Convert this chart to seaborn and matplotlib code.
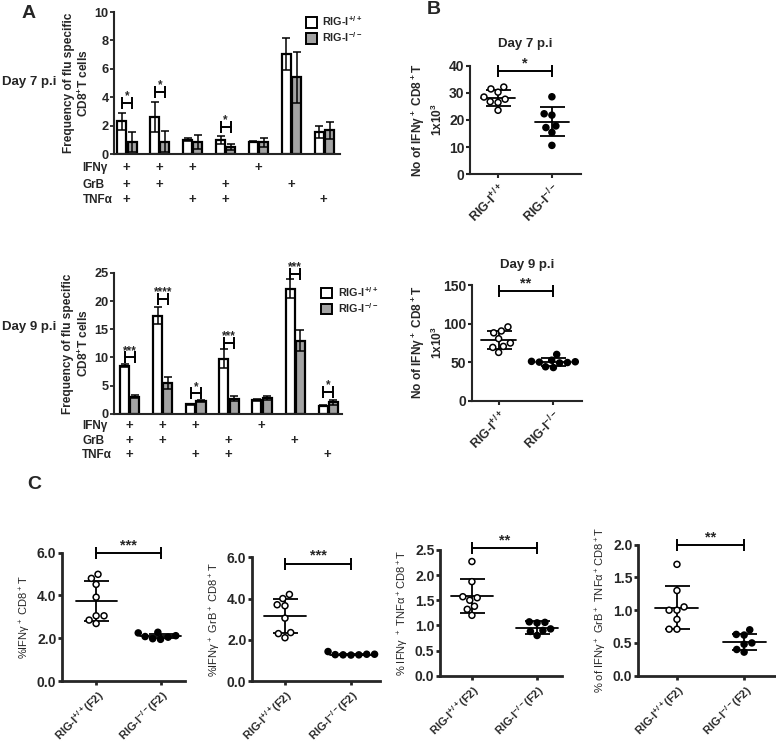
import numpy as np
import pandas as pd
import matplotlib
matplotlib.use("Agg")
import matplotlib.pyplot as plt
from matplotlib.patches import Patch
from matplotlib.transforms import blended_transform_factory
import seaborn as sns

sns.set_style("ticks")
plt.rcParams["font.family"] = ["Liberation Sans", "DejaVu Sans"]
plt.rcParams["font.weight"] = "bold"
plt.rcParams["mathtext.default"] = "regular"
plt.rcParams["axes.linewidth"] = 1.5

# -------------------------------
# data
# -------------------------------
genotypes = ["RIG-I+/+", "RIG-I-/-"]
markers_rows = ["IFNγ", "GrB", "TNFα"]
# which marker is positive for each of the 7 bar groups
ifng_pos = [1, 1, 1, 0, 1, 0, 0]
grb_pos = [1, 1, 0, 1, 0, 1, 0]
tnfa_pos = [1, 0, 1, 1, 0, 0, 1]

day7_wt = [2.3, 2.63, 1.0, 1.0, 0.87, 7.05, 1.55]
day7_wt_err = [0.62, 1.05, 0.1, 0.3, 0.03, 1.15, 0.45]
day7_ko = [0.85, 0.87, 0.85, 0.5, 0.82, 5.4, 1.67]
day7_ko_err = [0.72, 0.72, 0.5, 0.2, 0.3, 1.8, 0.6]
day7_sig_group = [0, 1, 3]
day7_sig_y = [3.58, 4.38, 1.9]
day7_sig_txt = ["*", "*", "*"]

day9_wt = [8.55, 17.4, 1.66, 9.74, 2.5, 22.2, 1.43]
day9_wt_err = [0.2, 1.5, 0.15, 1.7, 0.2, 1.7, 0.1]
day9_ko = [3.05, 5.4, 2.25, 2.67, 2.85, 13.0, 2.0]
day9_ko_err = [0.2, 1.05, 0.2, 0.4, 0.35, 1.9, 0.4]
day9_sig_group = [0, 1, 2, 3, 5, 6]
day9_sig_y = [10.0, 20.4, 3.6, 12.5, 24.8, 3.8]
day9_sig_txt = ["***", "****", "*", "***", "***", "*"]

# panel B: absolute numbers
b7_wt = [32.2, 31.5, 30.3, 28.5, 27.7, 26.8, 26.5, 23.6]
b7_ko = [28.6, 22.3, 21.8, 17.8, 17.2, 15.4, 10.6]
b7_mean = [28.1, 19.3]
b7_sd = [3.1, 5.35]
b9_wt = [95.7, 90.4, 88.0, 80.4, 74.8, 70.4, 69.1, 62.6]
b9_ko = [60.0, 52.5, 51.0, 50.5, 50.0, 49.5, 49.0, 44.0, 43.0]
b9_mean = [79.1, 50.0]
b9_sd = [11.5, 4.8]

# panel C: F2 percentages
c1_wt = [4.99, 4.8, 4.52, 3.92, 3.05, 3.05, 2.85, 2.69]
c1_ko = [2.28, 2.25, 2.12, 2.08, 2.05, 1.98, 1.95]
c1_mean = [3.75, 2.1]
c1_sd = [0.93, 0.1]
c2_wt = [4.2, 4.0, 3.7, 3.65, 3.05, 2.35, 2.3, 2.1]
c2_ko = [1.43, 1.3, 1.28, 1.27, 1.27, 1.26, 1.3]
c2_mean = [3.15, 1.28]
c2_sd = [0.82, 0.04]
c3_wt = [2.27, 1.87, 1.57, 1.55, 1.5, 1.38, 1.32, 1.2]
c3_ko = [1.07, 1.06, 1.05, 0.93, 0.9, 0.88, 0.8]
c3_mean = [1.59, 0.955]
c3_sd = [0.34, 0.125]
c4_wt = [1.7, 1.3, 1.05, 1.0, 1.0, 0.86, 0.71, 0.71]
c4_ko = [0.7, 0.63, 0.62, 0.5, 0.48, 0.4, 0.36]
c4_mean = [1.04, 0.51]
c4_sd = [0.33, 0.12]

WHITE = "white"
GRAY = "#a3a3a3"


def bracket(ax, x0, x1, y, txt, fs=8, dy=0.0):
    ax.plot([x0, x1], [y, y], color="black", lw=1.4, marker="|",
             markersize=8, markeredgewidth=1.4, clip_on=False)
    ax.text((x0 + x1) / 2, y + dy, txt, ha="center", va="bottom",
            fontsize=fs, fontweight="bold", clip_on=False)


def bar_panel(rect, wt, wt_err, ko, ko_err, sig_g, sig_y, sig_t, ymax, step,
              xlim, legend_anchor, row_y, label_x):
    ax = fig.add_axes(rect)
    groups = [str(i) for i in range(len(wt))]
    df = pd.DataFrame({
        "group": groups * 2,
        "geno": [genotypes[0]] * len(wt) + [genotypes[1]] * len(ko),
        "val": wt + ko,
    })
    sns.barplot(data=df, x="group", y="val", hue="geno", order=groups,
                hue_order=genotypes, palette=[WHITE, GRAY], errorbar=None,
                width=0.62, gap=0.12, edgecolor="black", linewidth=1.6,
                legend=False, ax=ax)
    bars = ax.patches
    n = len(wt)
    xs_wt = [b.get_x() + b.get_width() / 2 for b in bars[:n]]
    xs_ko = [b.get_x() + b.get_width() / 2 for b in bars[n:2 * n]]
    ax.errorbar(xs_wt, wt, yerr=wt_err, fmt="none", ecolor="black",
                elinewidth=1.1, capsize=3.2, capthick=1.1)
    ax.errorbar(xs_ko, ko, yerr=ko_err, fmt="none", ecolor="black",
                elinewidth=1.1, capsize=3.2, capthick=1.1)
    for g, y, t in zip(sig_g, sig_y, sig_t):
        bracket(ax, xs_wt[g], xs_ko[g], y, t, fs=8.5, dy=ymax * 0.005)
    ax.set_ylim(0, ymax)
    ax.set_xlim(*xlim)
    ax.set_yticks(np.arange(0, ymax + 0.1, step))
    ax.set_xticks([])
    ax.set_xlabel("")
    ax.set_ylabel("Frequency of flu specific\nCD8$^{+}$T cells",
                  fontsize=8.6, fontweight="bold")
    ax.yaxis.set_label_coords(label_x, 0.5)
    ax.tick_params(axis="y", labelsize=9.2, length=3, width=1.3, pad=1)
    sns.despine(ax=ax)
    # marker table under the bars
    tr = blended_transform_factory(ax.transData, ax.transAxes)
    for r, (name, pos) in enumerate(zip(markers_rows,
                                        [ifng_pos, grb_pos, tnfa_pos])):
        ax.text(-0.14, row_y[r], name, transform=ax.transAxes, fontsize=8.5,
                fontweight="bold", ha="left", va="center")
        for g, p in enumerate(pos):
            if p:
                ax.text(g - 0.02, row_y[r], "+", transform=tr, fontsize=9.5,
                        fontweight="bold", ha="center", va="center")
    handles = [Patch(facecolor=WHITE, edgecolor="black", lw=1.4),
               Patch(facecolor=GRAY, edgecolor="black", lw=1.4)]
    ax.legend(handles, ["RIG-I$^{+/+}$", "RIG-I$^{-/-}$"], frameon=False,
              loc="upper left", bbox_to_anchor=legend_anchor, fontsize=7.8,
              handlelength=1.0, handleheight=1.1, handletextpad=0.5,
              labelspacing=0.2, borderpad=0.1)
    return ax


def dot_panel(rect, wt, ko, mean, sd, ylim, ticks, fmt, ylabel, tick_lbls,
              xlim, sig_y, sig_t, label_fs=7, ylabel_bold=True, lw=1.5,
              label_x=None, tick_fs=8):
    ax = fig.add_axes(rect)
    df = pd.DataFrame({
        "geno": [genotypes[0]] * len(wt) + [genotypes[1]] * len(ko),
        "val": wt + ko,
    })
    sns.swarmplot(data=df, x="geno", y="val", hue="geno", order=genotypes,
                  hue_order=genotypes, palette=["white", "black"],
                  edgecolor="black", linewidth=1.1, size=4.3, legend=False,
                  ax=ax, zorder=3)
    for i in range(2):
        ax.plot([i - 0.32, i + 0.32], [mean[i], mean[i]], color="black", lw=1.3)
        ax.errorbar(i, mean[i], yerr=sd[i], fmt="none", ecolor="black",
                    elinewidth=1.3, capsize=9, capthick=1.3)
    bracket(ax, 0, 1, sig_y, sig_t, fs=10.5, dy=(ylim[1]) * 0.005)
    ax.set_ylim(*ylim)
    ax.set_xlim(*xlim)
    ax.set_yticks(ticks)
    ax.set_yticklabels([fmt.format(t) for t in ticks])
    ax.set_xticks([0, 1])
    ax.set_xticklabels(tick_lbls, rotation=45, ha="right",
                       rotation_mode="anchor", fontsize=tick_fs,
                       fontweight="bold")
    ax.set_xlabel("")
    ax.set_ylabel(ylabel, fontsize=label_fs,
                  fontweight="bold" if ylabel_bold else "normal", labelpad=3)
    if label_x is not None:
        ax.yaxis.set_label_coords(label_x, 0.5)
    ax.tick_params(axis="y", labelsize=10, length=3, width=lw, pad=1)
    ax.tick_params(axis="x", length=3, width=lw, pad=2)
    for s in ["left", "bottom"]:
        ax.spines[s].set_linewidth(lw)
    sns.despine(ax=ax)
    return ax


fig = plt.figure(figsize=(7.76, 7.43), dpi=100)

# -------------------------------
# PANEL A
# -------------------------------
bar_panel([0.147, 0.7927, 0.291, 0.191], day7_wt, day7_wt_err, day7_ko,
          day7_ko_err, day7_sig_group, day7_sig_y, day7_sig_txt, 10, 2,
          (-0.39, 6.47), (0.82, 1.03), [-0.099, -0.218, -0.324], -0.1)
bar_panel([0.147, 0.4432, 0.294, 0.1894], day9_wt, day9_wt_err, day9_ko,
          day9_ko_err, day9_sig_group, day9_sig_y, day9_sig_txt, 25, 5,
          (-0.47, 6.42), (0.88, 0.96), [-0.087, -0.194, -0.294], -0.1)

fig.text(0.002, 1 - 82 / 743, "Day 7 p.i", fontsize=9.5, fontweight="bold",
         va="center")
fig.text(0.002, 1 - 327 / 743, "Day 9 p.i", fontsize=9.5, fontweight="bold",
         va="center")

# -------------------------------
# PANEL B
# -------------------------------
b_ticks = ["RIG-I$^{+/+}$", "RIG-I$^{-/-}$"]
ax = dot_panel([0.6057, 0.7658, 0.143, 0.1454], b7_wt, b7_ko, b7_mean, b7_sd,
               (0, 40), [0, 10, 20, 30, 40], "{:g}",
               "No of IFNγ$^+$ CD8$^+$T\n1x10$^3$", b_ticks, (-0.52, 1.54),
               38.1, "*", label_fs=8.6, label_x=-0.23, tick_fs=9)
ax.set_title("Day 7 p.i", fontsize=9.5, fontweight="bold", pad=14)
ax = dot_panel([0.608, 0.4607, 0.1418, 0.1557], b9_wt, b9_ko, b9_mean, b9_sd,
               (0, 150), [0, 50, 100, 150], "{:g}",
               "No of IFNγ$^+$ CD8$^+$T\n1x10$^3$", b_ticks, (-0.49, 1.52),
               142, "**", label_fs=8.6, label_x=-0.245, tick_fs=9)
ax.set_title("Day 9 p.i", fontsize=9.5, fontweight="bold", pad=12)

# -------------------------------
# PANEL C
# -------------------------------
c_ticks = ["RIG-I$^{+/+}$(F2)", "RIG-I$^{-/-}$(F2)"]
dot_panel([0.0799, 0.0834, 0.1585, 0.1727], c1_wt, c1_ko, c1_mean, c1_sd,
          (0, 6), [0, 2, 4, 6], "{:.1f}", "%IFNγ$^+$ CD8$^+$T", c_ticks,
          (-0.53, 1.38), 6.0, "***", label_fs=8, ylabel_bold=False, lw=2)
dot_panel([0.3247, 0.0834, 0.165, 0.1665], c2_wt, c2_ko, c2_mean, c2_sd,
          (0, 6), [0, 2, 4, 6], "{:.1f}", "%IFNγ$^+$ GrB$^+$ CD8$^+$T",
          c_ticks, (-0.5, 1.44), 5.7, "***", label_fs=8, ylabel_bold=False,
          lw=2)
dot_panel([0.567, 0.0906, 0.157, 0.1692], c3_wt, c3_ko, c3_mean, c3_sd,
          (0, 2.5), [0, 0.5, 1.0, 1.5, 2.0, 2.5], "{:.1f}",
          "% IFNγ $^+$ TNFα$^+$CD8$^+$T", c_ticks, (-0.49, 1.38), 2.54, "**",
          label_fs=8, ylabel_bold=False, lw=2)
dot_panel([0.8222, 0.0906, 0.1765, 0.1763], c4_wt, c4_ko, c4_mean, c4_sd,
          (0, 2.0), [0, 0.5, 1.0, 1.5, 2.0], "{:.1f}",
          "% of IFNγ$^+$ GrB$^+$ TNFα$^+$CD8$^+$T", c_ticks, (-0.58, 1.46),
          2.0, "**", label_fs=8, ylabel_bold=False, lw=2)

# panel letters
fig.text(22 / 776, 1 - 13 / 743, "A", fontsize=14, fontweight="bold", va="center")
fig.text(427 / 776, 1 - 9 / 743, "B", fontsize=14, fontweight="bold", va="center")
fig.text(27 / 776, 1 - 484 / 743, "C", fontsize=14, fontweight="bold", va="center")

fig.savefig("out.png", dpi=100)
